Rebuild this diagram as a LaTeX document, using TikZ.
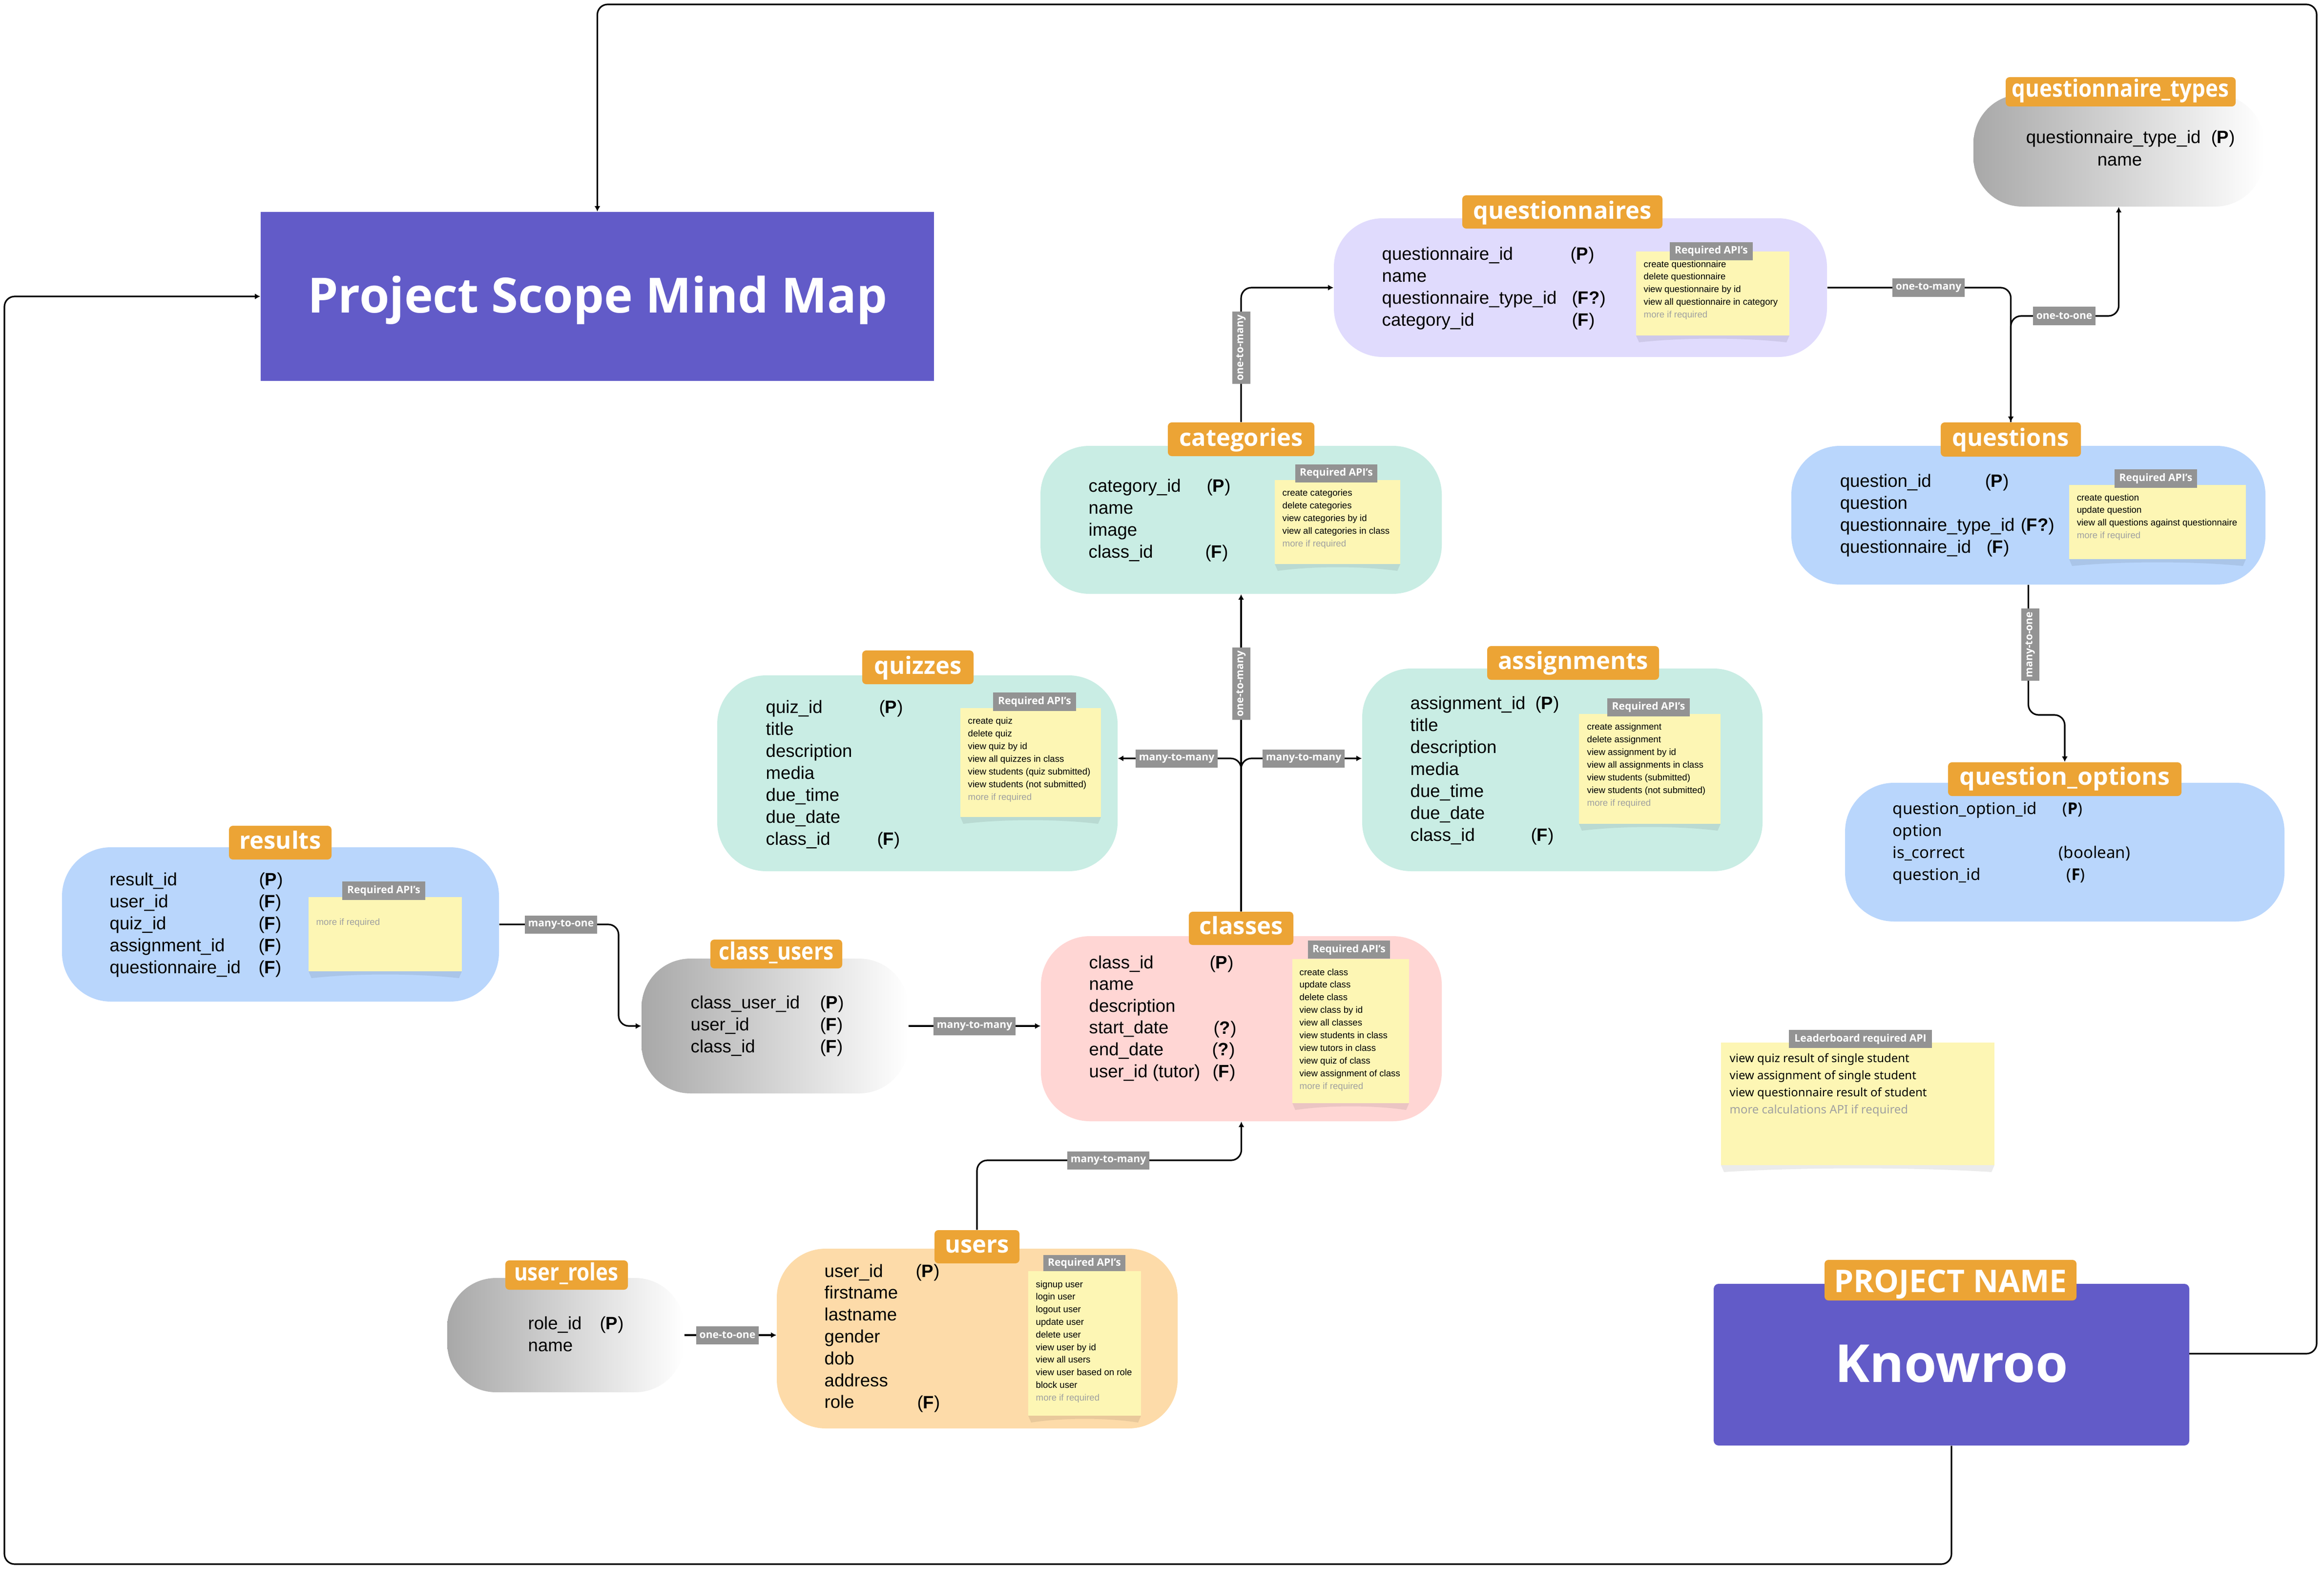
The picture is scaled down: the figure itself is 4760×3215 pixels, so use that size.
\documentclass[tikz,border=0pt]{standalone}
\usepackage{fontspec}
\setmainfont{Liberation Sans}
\newfontfamily\hfont{Open Sans}
\newfontfamily\nfont{Noto Sans}
\usetikzlibrary{fit,arrows.meta}
\definecolor{purp}{RGB}{98,91,200}
\definecolor{org}{RGB}{236,164,53}
\definecolor{lav}{RGB}{224,219,253}
\definecolor{blu}{RGB}{185,214,252}
\definecolor{mint}{RGB}{201,237,228}
\definecolor{pnk}{RGB}{255,214,212}
\definecolor{peach}{RGB}{253,219,169}
\definecolor{yel}{RGB}{253,246,180}
\definecolor{gry}{RGB}{147,147,147}
\definecolor{gtx}{RGB}{160,160,160}
\definecolor{gl}{RGB}{168,168,168}
\newcommand{\nshadow}[3]{\fill[black,opacity=0.08] (#1,#3) -- ({#1+6},{#3+14}) .. controls ({#1+0.3*(#2-#1)},{#3+4}) and ({#2-0.3*(#2-#1)},{#3+4}) .. ({#2-6},{#3+14}) -- (#2,#3) -- cycle;}
\tikzset{
 ent/.style={rectangle, rounded corners=1cm, inner sep=0pt, draw=none},
 grad/.style={ent, left color=gl, right color=white},
 lbl/.style={rectangle, rounded corners=0.08cm, fill=org, inner sep=0pt},
 htext/.style={text=white, font=\hfont\bfseries\fontsize{13.9pt}{16pt}\selectfont, inner sep=0pt, anchor=base},
 ftext/.style={font=\fontsize{10.4pt}{12pt}\selectfont, inner sep=0pt, anchor=base west},
 qtext/.style={font=\nfont\fontsize{9.4pt}{11pt}\selectfont, inner sep=0pt, anchor=base west},
 ntext/.style={font=\fontsize{5.3pt}{6pt}\selectfont, inner sep=0pt, anchor=base west},
 ltext/.style={font=\nfont\fontsize{6.8pt}{8pt}\selectfont, inner sep=0pt, anchor=base west},
 more/.style={text=gtx},
 note/.style={rectangle, fill=yel, inner sep=0pt},
 hdr/.style={rectangle, fill=gry, inner sep=0pt},
 hdrtext/.style={text=white, font=\hfont\bfseries\fontsize{6pt}{7pt}\selectfont, inner sep=0pt},
 rel/.style={rectangle, fill=gry, text=white, font=\hfont\bfseries\fontsize{6pt}{7pt}\selectfont, inner xsep=0.07cm, inner ysep=0pt, minimum height=0.37cm},
 conn/.style={draw=black, line width=0.9pt, rounded corners=6pt, -{Latex[length=3.2pt,width=3.4pt]}},
}
\begin{document}
\begin{tikzpicture}[x=0.01cm,y=-0.01cm]
\useasboundingbox (0,0) rectangle (4760,3215);
\fill[white] (0,0) rectangle (4760,3215);

% ---------- title & project name
\node[fill=purp, inner sep=0pt, fit={(534,434) (1913,780)}] (title) {};
\node[text=white, font=\hfont\bfseries\fontsize{28.3pt}{34pt}\selectfont, inner sep=0pt, anchor=base] (titlet) at (1224,640) {Project Scope Mind Map};
\node[fill=purp, rounded corners=0.1cm, inner sep=0pt, fit={(3510,2629) (4484,2960)}] (kn) {};
\node[text=white, font=\hfont\bfseries\fontsize{30.5pt}{36pt}\selectfont, inner sep=0pt, anchor=base] (knt) at (3997,2830) {Knowroo};
\node[lbl, fit={(3737,2580) (4253,2663)}] (pnl) {};
\node[text=white, font=\hfont\bfseries\fontsize{18.2pt}{22pt}\selectfont, inner sep=0pt, anchor=base] (pnlt) at (3995,2646) {PROJECT NAME};

% ---------- questionnaires
\node[ent, fill=lav, fit={(2732,447) (3742,731)}] (qn) {};
\node[lbl, fit={(2995,400) (3405,468)}] (qnl) {};
\node[htext] (qnlt) at (3200,448) {questionnaires};
\foreach \t [count=\i] in {questionnaire\_id, name, questionnaire\_type\_id, category\_id}
  \node[ftext] (qnf\i) at (2830,{532+(\i-1)*45}) {\t};
\node[ftext] (qnk1) at (3216,532) {(\textbf{P})};
\node[ftext] (qnk3) at (3219,622) {(\textbf{F?})};
\node[ftext] (qnk4) at (3219,667) {(\textbf{F})};
\nshadow{3351}{3665}{687}
\node[note, fit={(3351,515) (3665,687)}] (qnn) {};
\node[hdr, fit={(3420,496) (3590,533)}] (qnh) {};
\node[hdrtext] (qnht) at (qnh.center) {Required API’s};
\foreach \t [count=\i] in {create questionnaire, delete questionnaire, view questionnaire by id, view all questionnaire in category}
  \node[ntext] (qnn\i) at (3366,{547+(\i-1)*25.8}) {\t};
\node[ntext, more] (qnnm) at (3366,650) {more if required};

% ---------- questionnaire_types
\node[grad, fit={(4042,193) (4637,423)}] (qt) {};
\node[lbl, fit={(4108,158) (4579,218)}] (qtl) {};
\node[htext, xscale=0.9, transform shape] (qtlt) at (4343,199) {questionnaire\_types};
\node[ftext] (qtf1) at (4149,294) {questionnaire\_type\_id};
\node[ftext] (qtk1) at (4528,294) {(\textbf{P})};
\node[ftext] (qtf2) at (4295,339) {name};

% ---------- questions
\node[ent, fill=blu, fit={(3669,913) (4640,1197)}] (qs) {};
\node[lbl, fit={(3975,865) (4262,935)}] (qsl) {};
\node[htext] (qslt) at (4118,913) {questions};
\foreach \t [count=\i] in {question\_id, question, questionnaire\_type\_id, questionnaire\_id}
  \node[ftext] (qsf\i) at (3768,{997+(\i-1)*45}) {\t};
\node[ftext] (qsk1) at (4065,997) {(\textbf{P})};
\node[ftext] (qsk3) at (4138,1087) {(\textbf{F?})};
\node[ftext] (qsk4) at (4068,1132) {(\textbf{F})};
\nshadow{4238}{4600}{1145}
\node[note, fit={(4238,993) (4600,1145)}] (qsn) {};
\node[hdr, fit={(4331,961) (4500,999)}] (qsh) {};
\node[hdrtext] (qsht) at (qsh.center) {Required API’s};
\foreach \t [count=\i] in {create question, update question, view all questions against questionnaire}
  \node[ntext] (qsn\i) at (4253,{1025+(\i-1)*25.8}) {\t};
\node[ntext, more] (qsnm) at (4253,1102) {more if required};

% ---------- question_options
\node[ent, fill=blu, fit={(3779,1603) (4679,1887)}] (qo) {};
\node[lbl, fit={(3990,1561) (4468,1630)}] (qol) {};
\node[htext, xscale=1.03, transform shape] (qolt) at (4229,1607) {question\_options};
\foreach \t [count=\i] in {question\_option\_id, option, is\_correct, question\_id}
  \node[qtext] (qof\i) at (3876,{1667+(\i-1)*45}) {\t};
\node[qtext] (qok1) at (4224,1667) {({\hfont\bfseries P})};
\node[qtext] (qok3) at (4216,1757) {(boolean)};
\node[qtext] (qok4) at (4232,1802) {({\hfont\bfseries F})};

% ---------- categories
\node[ent, fill=mint, fit={(2131,913) (2953,1216)}] (cat) {};
\node[lbl, fit={(2392,865) (2692,934)}] (catl) {};
\node[htext] (catlt) at (2542,913) {categories};
\foreach \t [count=\i] in {category\_id, name, image, class\_id}
  \node[ftext] (catf\i) at (2229,{1007+(\i-1)*45}) {\t};
\node[ftext] (catk1) at (2471,1007) {(\textbf{P})};
\node[ftext] (catk4) at (2468,1142) {(\textbf{F})};
\nshadow{2611}{2868}{1155}
\node[note, fit={(2611,983) (2868,1155)}] (catn) {};
\node[hdr, fit={(2653,951) (2821,988)}] (cath) {};
\node[hdrtext] (catht) at (cath.center) {Required API’s};
\foreach \t [count=\i] in {create categories, delete categories, view categories by id, view all categories in class}
  \node[ntext] (catn\i) at (2626,{1015+(\i-1)*26}) {\t};
\node[ntext, more] (catnm) at (2626,1119) {more if required};

% ---------- quizzes
\node[ent, fill=mint, fit={(1469,1383) (2289,1784)}] (qz) {};
\node[lbl, fit={(1766,1332) (1994,1401)}] (qzl) {};
\node[htext] (qzlt) at (1880,1380) {quizzes};
\foreach \t [count=\i] in {quiz\_id, title, description, media, due\_time, due\_date, class\_id}
  \node[ftext] (qzf\i) at (1568,{1460+(\i-1)*45}) {\t};
\node[ftext] (qzk1) at (1800,1460) {(\textbf{P})};
\node[ftext] (qzk7) at (1796,1730) {(\textbf{F})};
\nshadow{1967}{2255}{1673}
\node[note, fit={(1967,1450) (2255,1673)}] (qzn) {};
\node[hdr, fit={(2034,1418) (2204,1456)}] (qzh) {};
\node[hdrtext] (qzht) at (qzh.center) {Required API’s};
\foreach \t [count=\i] in {create quiz, delete quiz, view quiz by id, view all quizzes in class, view students (quiz submitted), view students (not submitted)}
  \node[ntext] (qzn\i) at (1982,{1482+(\i-1)*26}) {\t};
\node[ntext, more] (qznm) at (1982,1638) {more if required};

% ---------- assignments
\node[ent, fill=mint, fit={(2790,1369) (3610,1784)}] (as) {};
\node[lbl, fit={(3046,1323) (3398,1392)}] (asl) {};
\node[htext] (aslt) at (3222,1370) {assignments};
\foreach \t [count=\i] in {assignment\_id, title, description, media, due\_time, due\_date, class\_id}
  \node[ftext] (asf\i) at (2888,{1452+(\i-1)*45}) {\t};
\node[ftext] (ask1) at (3144,1452) {(\textbf{P})};
\node[ftext] (ask7) at (3135,1722) {(\textbf{F})};
\nshadow{3234}{3524}{1687}
\node[note, fit={(3234,1462) (3524,1687)}] (asn) {};
\node[hdr, fit={(3292,1430) (3461,1467)}] (ash) {};
\node[hdrtext] (asht) at (ash.center) {Required API’s};
\foreach \t [count=\i] in {create assignment, delete assignment, view assignment by id, view all assignments in class, view students (submitted), view students (not submitted)}
  \node[ntext] (asn\i) at (3250,{1494+(\i-1)*26}) {\t};
\node[ntext, more] (asnm) at (3250,1650) {more if required};

% ---------- classes
\node[ent, fill=pnk, fit={(2132,1917) (2953,2296)}] (cl) {};
\node[lbl, fit={(2435,1867) (2649,1935)}] (cll) {};
\node[htext] (cllt) at (2542,1913) {classes};
\foreach \t [count=\i] in {class\_id, name, description, start\_date, end\_date, user\_id (tutor)}
  \node[ftext] (clf\i) at (2230,{1983+(\i-1)*44.6}) {\t};
\node[ftext] (clk1) at (2477,1983) {(\textbf{P})};
\node[ftext] (clk4) at (2485,2117) {(\textbf{?})};
\node[ftext] (clk5) at (2482,2161) {(\textbf{?})};
\node[ftext] (clk6) at (2483,2206) {(\textbf{F})};
\nshadow{2647}{2886}{2259}
\node[note, fit={(2647,1964) (2886,2259)}] (cln) {};
\node[hdr, fit={(2679,1926) (2847,1963)}] (clh) {};
\node[hdrtext] (clht) at (clh.center) {Required API’s};
\foreach \t [count=\i] in {create class, update class, delete class, view class by id, view all classes, view students in class, view tutors in class, view quiz of class, view assignment of class}
  \node[ntext] (cln\i) at (2661,{1997+(\i-1)*25.9}) {\t};
\node[ntext, more] (clnm) at (2661,2230) {more if required};

% ---------- users
\node[ent, fill=peach, fit={(1591,2557) (2412,2925)}] (us) {};
\node[lbl, fit={(1914,2519) (2088,2587)}] (usl) {};
\node[htext] (uslt) at (2001,2565) {users};
\foreach \t [count=\i] in {user\_id, firstname, lastname, gender, dob, address, role}
  \node[ftext] (usf\i) at (1688,{2615+(\i-1)*44.8}) {\t};
\node[ftext] (usk1) at (1875,2615) {(\textbf{P})};
\node[ftext] (usk7) at (1878,2884) {(\textbf{F})};
\nshadow{2106}{2337}{2899}
\node[note, fit={(2106,2603) (2337,2899)}] (usn) {};
\node[hdr, fit={(2137,2570) (2305,2603)}] (ush) {};
\node[hdrtext] (usht) at (ush.center) {Required API’s};
\foreach \t [count=\i] in {signup user, login user, logout user, update user, delete user, view user by id, view all users, view user based on role, block user}
  \node[ntext] (usn\i) at (2121,{2636+(\i-1)*25.8}) {\t};
\node[ntext, more] (usnm) at (2121,2868) {more if required};

% ---------- user_roles
\node[grad, fit={(916,2617) (1401,2851)}] (ur) {};
\node[lbl, fit={(1035,2581) (1286,2641)}] (url) {};
\node[htext, xscale=0.865, transform shape] (urlt) at (1160,2622) {user\_roles};
\node[ftext] (urf1) at (1081,2722) {role\_id};
\node[ftext] (urf2) at (1081,2767) {name};
\node[ftext] (urk1) at (1228,2722) {(\textbf{P})};

% ---------- results
\node[ent, fill=blu, fit={(127,1735) (1022,2051)}] (rs) {};
\node[lbl, fit={(469,1691) (679,1760)}] (rsl) {};
\node[htext] (rslt) at (574,1738) {results};
\foreach \t [count=\i] in {result\_id, user\_id, quiz\_id, assignment\_id, questionnaire\_id}
  \node[ftext] (rsf\i) at (224,{1813+(\i-1)*45}) {\t};
\node[ftext] (rsk1) at (530,1813) {(\textbf{P})};
\foreach \i in {2,...,5}
  \node[ftext] (rsk\i) at (529,{1813+(\i-1)*45}) {(\textbf{F})};
\nshadow{632}{946}{1989}
\node[note, fit={(632,1837) (946,1989)}] (rsn) {};
\node[hdr, fit={(701,1805) (871,1843)}] (rsh) {};
\node[hdrtext] (rsht) at (rsh.center) {Required API’s};
\node[ntext, more] (rsnm) at (647,1894) {more if required};

% ---------- class_users
\node[grad, fit={(1314,1963) (1860,2239)}] (cu) {};
\node[lbl, fit={(1455,1924) (1725,1983)}] (cul) {};
\node[htext, xscale=0.87, transform shape] (cult) at (1590,1965) {class\_users};
\foreach \t [count=\i] in {class\_user\_id, user\_id, class\_id}
  \node[ftext] (cuf\i) at (1414,{2065+(\i-1)*45}) {\t};
\node[ftext] (cuk1) at (1679,2065) {(\textbf{P})};
\node[ftext] (cuk2) at (1679,2110) {(\textbf{F})};
\node[ftext] (cuk3) at (1679,2155) {(\textbf{F})};

% ---------- leaderboard
\nshadow{3525}{4085}{2386}
\node[note, fit={(3525,2135) (4085,2386)}] (lb) {};
\node[hdr, fit={(3664,2109) (3957,2146)}] (lbh) {};
\node[hdrtext] (lbht) at (lbh.center) {Leaderboard required API};
\foreach \t [count=\i] in {view quiz result of single student, view assignment of single student, view questionnaire result of student}
  \node[ltext] (lb\i) at (3542,{2175+(\i-1)*35}) {\t};
\node[ltext, more] (lbm) at (3542,2280) {more calculations API if required};

% ---------- connectors
\coordinate (kE) at (4484,2772);
\coordinate (cTR) at (4745,9);
\coordinate (cBL) at (9,3203);
\draw[conn] (kE) -- (kE -| cTR) -- (cTR) -- (cTR -| title.north) -- (title.north);
\draw[conn] (kn.south) -- (kn.south |- cBL) -- (cBL) -- (cBL |- title.west) -- (title.west);
\draw[conn] (catl.north) -- (catl.north |- qn.west) -- (qn.west);
\draw[conn] (qn.east) -- (qn.east -| qsl.north) -- (qsl.north);
\coordinate (e1) at (4120,647);
\draw[conn] (qsl.north) -- (qsl.north |- e1) -- (e1 -| qt.south) -- (qt.south);
\coordinate (f1) at (0,1464);
\draw[conn] (qs.south) -- (qs.south |- f1) -- (f1 -| qol.north) -- (qol.north);
\draw[conn] (cll.north) -- (cat.south);
\coordinate (h1) at (0,1553);
\draw[conn] (cll.north) -- (cll.north |- h1) -- (qz.east |- h1);
\draw[conn] (cll.north) -- (cll.north |- h1) -- (as.west |- h1);
\coordinate (j1) at (0,2376);
\draw[conn] (usl.north) -- (usl.north |- j1) -- (cl.south |- j1) -- (cl.south);
\coordinate (k1) at (1267,0);
\draw[conn] (rs.east) -- (rs.east -| k1) -- (k1 |- cu.west) -- (cu.west);
\draw[conn] (cu.east) -- (cl.west |- cu.east);
\draw[conn] (ur.east) -- (us.west |- ur.east);

% ---------- relation labels
\node[rel, rotate=90] (rC) at (2542,712) {one-to-many};
\node[rel] (rD) at (3950,589) {one-to-many};
\node[rel] (rE) at (4228,647) {one-to-one};
\node[rel, rotate=90] (rF) at (4158,1320) {many-to-one};
\node[rel, rotate=90] (rG) at (2542,1400) {one-to-many};
\node[rel] (rH) at (2410,1553) {many-to-many};
\node[rel] (rI) at (2670,1553) {many-to-many};
\node[rel] (rJ) at (2270,2376) {many-to-many};
\node[rel] (rK) at (1149,1893) {many-to-one};
\node[rel] (rL) at (1996,2101) {many-to-many};
\node[rel] (rM) at (1490,2734) {one-to-one};
\end{tikzpicture}
\end{document}
